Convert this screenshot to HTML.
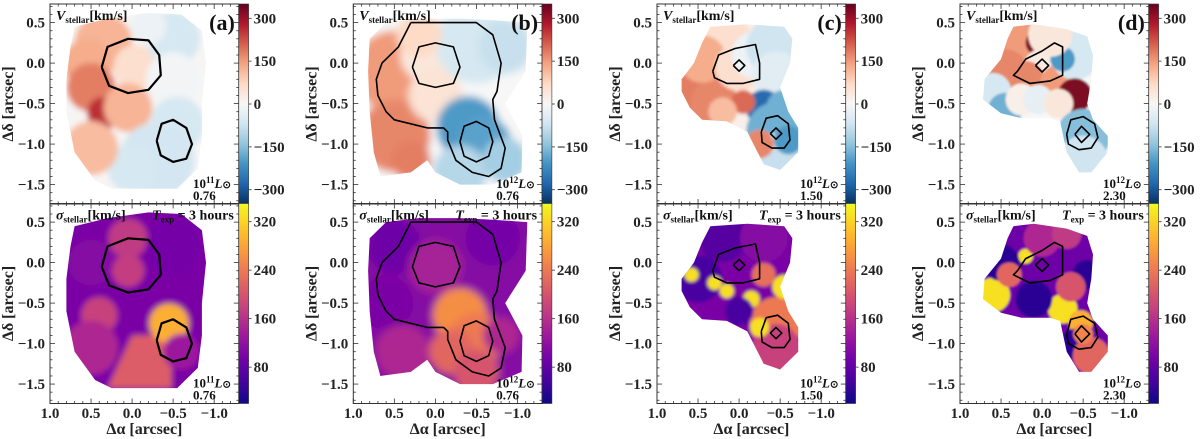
<!DOCTYPE html>
<html><head><meta charset="utf-8"><style>
html,body{margin:0;padding:0;background:#fff;}
svg{display:block;font-family:"Liberation Serif",serif;}
</style></head><body>
<svg id="fig" width="1200" height="439" viewBox="0 0 1200 439" xmlns="http://www.w3.org/2000/svg"></svg>
<script>
// ---------- data (arcsec coordinates, km/s values) ----------
const panelTags = ["(a)","(b)","(c)","(d)"];
const lumExp = ["11","12","12","12"];
const zLabels = ["0.76","0.76","1.50","2.30"];
const velTicks = [300,150,0,-150,-300];
const sigTicks = [320,240,160,80];
const xTicks = [1.0,0.5,0.0,-0.5,-1.0];
const yTicks = [0.5,0.0,-0.5,-1.0,-1.5];

const footprintA = [[0.7,0.45],[0.3,0.55],[-0.2,0.62],[-0.6,0.6],[-0.85,0.4],[-0.9,0.0],[-0.85,-0.5],[-0.85,-0.9],[-0.8,-1.3],[-0.55,-1.55],[0.25,-1.55],[0.45,-1.45],[0.7,-1.1],[0.8,-0.6],[0.8,-0.2],[0.75,0.2]];
const footprintB = [[0.8,0.3],[0.6,0.5],[0.2,0.55],[-0.3,0.55],[-0.7,0.53],[-1.12,0.5],[-1.1,-0.1],[-0.85,-0.5],[-1.06,-0.9],[-1.05,-1.35],[-0.7,-1.5],[-0.3,-1.5],[0.0,-1.35],[0.1,-1.2],[0.3,-1.35],[0.67,-1.4],[0.75,-1.1],[0.8,-0.6],[0.82,-0.1]];
const footprintC = [[0.35,0.45],[-0.1,0.48],[-0.55,0.45],[-0.65,0.3],[-0.62,0.0],[-0.5,-0.3],[-0.6,-0.6],[-0.72,-0.8],[-0.72,-1.1],[-0.5,-1.32],[-0.3,-1.25],[-0.2,-1.05],[-0.1,-0.85],[0.15,-0.72],[0.45,-0.7],[0.6,-0.55],[0.7,-0.35],[0.7,-0.2],[0.55,0.0],[0.45,0.25]];
const footprintD = [[0.35,0.45],[0.1,0.48],[-0.3,0.42],[-0.55,0.33],[-0.62,0.1],[-0.6,-0.2],[-0.55,-0.5],[-0.62,-0.7],[-0.8,-0.9],[-0.8,-1.1],[-0.6,-1.35],[-0.45,-1.35],[-0.3,-1.1],[-0.22,-0.72],[-0.1,-0.68],[0.25,-0.68],[0.5,-0.62],[0.72,-0.45],[0.7,-0.2],[0.5,0.05],[0.42,0.3]];

const velBaseA = 5, velBaseB = 0, velBaseC = 20, velBaseD = 0;
const sigBaseA = 100, sigBaseB = 110, sigBaseC = 100, sigBaseD = 90;

// blobs: [x, y, radius, value]
const velBlobsA = [[0.35,0.25,0.32,120],[0.55,0.0,0.27,130],[-0.05,-0.05,0.25,60],[-0.5,0.3,0.3,-60],[-0.2,0.45,0.2,-20],[-0.5,-0.2,0.3,-10],[0.5,-0.3,0.27,180],[0.35,-0.62,0.18,260],[0.05,-0.55,0.27,120],[-0.55,-0.75,0.3,-60],[-0.3,-1.2,0.42,-65],[0.0,-1.3,0.27,-60],[0.5,-1.05,0.3,110]];
const sigBlobsA = [[0.05,0.3,0.22,170],[0.05,-0.1,0.18,175],[0.4,-0.65,0.2,180],[-0.45,-0.75,0.22,290],[-0.6,-1.1,0.2,130],[0.5,0.0,0.25,110],[-0.5,0.2,0.3,95],[0.5,-1.05,0.3,150]];
const sigPatchA = [[0.3,-1.55],[0.0,-0.9],[-0.48,-0.9],[-0.48,-1.55]];
const sigPatchValA = 210;

const velBlobsB = [[0.5,-0.1,0.45,150],[0.5,-0.9,0.4,170],[0.3,-1.2,0.22,180],[0.1,0.1,0.3,40],[0.0,-0.4,0.3,50],[-0.5,0.25,0.45,-60],[-0.85,0.2,0.3,-80],[-0.4,-0.8,0.35,-200],[-0.6,-1.0,0.3,-190],[-0.3,-1.35,0.3,-100],[-0.85,-1.2,0.25,-120],[0.2,0.35,0.25,70]];
const sigBlobsB = [[0.5,0.2,0.3,90],[-0.7,0.3,0.3,95],[0.6,-0.5,0.3,100],[0.0,-0.05,0.3,140],[-0.3,-0.65,0.3,260],[-0.5,-0.95,0.3,240],[-0.2,-1.1,0.25,220],[-0.8,-0.9,0.2,150],[0.4,-1.1,0.3,150],[-0.5,-1.35,0.25,200]];

const velBlobsC = [[0.5,-0.3,0.25,180],[0.3,-0.5,0.2,170],[0.2,0.25,0.25,60],[0.45,0.05,0.2,130],[0.0,-0.05,0.2,60],[-0.2,0.1,0.2,-20],[-0.45,0.2,0.25,-70],[-0.45,-0.15,0.2,-40],[-0.3,-0.55,0.15,-270],[-0.05,-0.48,0.1,200],[-0.55,-0.55,0.15,-170],[-0.45,-0.85,0.25,-170],[-0.5,-1.15,0.2,-80],[-0.25,-1.0,0.12,170],[0.2,-0.6,0.12,110],[-0.6,-0.95,0.12,-200]];
const sigBlobsC = [[0.5,-0.2,0.2,60],[0.2,0.3,0.2,70],[-0.3,0.3,0.2,110],[-0.45,-0.75,0.22,240],[-0.45,-1.05,0.2,180],[-0.55,-0.3,0.1,330],[0.58,-0.15,0.06,330],[0.3,-0.25,0.06,330],[0.15,-0.35,0.06,330],[-0.15,-0.45,0.07,330],[-0.25,-0.8,0.08,330],[-0.3,-0.15,0.1,230],[0.0,-0.6,0.12,60]];

const velBlobsD = [[0.25,0.3,0.18,150],[0.05,0.25,0.1,330],[0.0,-0.05,0.15,30],[0.45,-0.1,0.18,170],[0.2,-0.2,0.15,170],[-0.2,-0.25,0.15,150],[-0.4,0.1,0.2,-60],[-0.25,0.05,0.1,-200],[-0.1,0.35,0.18,40],[-0.4,-0.4,0.14,330],[0.6,-0.35,0.15,-60],[0.45,-0.58,0.14,-170],[0.25,-0.45,0.13,20],[0.05,-0.45,0.12,-30],[-0.2,-0.5,0.12,40],[-0.5,-0.9,0.22,-150],[-0.5,-1.2,0.2,-70]];
const sigBlobsD = [[0.6,-0.4,0.14,330],[0.2,0.08,0.06,330],[-0.25,-0.57,0.12,330],[-0.47,-0.74,0.1,290],[0.5,0.0,0.15,40],[-0.55,-0.15,0.12,40],[0.1,-0.45,0.15,40],[-0.4,-1.0,0.12,40],[0.4,-0.15,0.1,220],[-0.35,-0.3,0.12,200],[-0.6,-1.15,0.15,220],[0.0,0.3,0.15,150],[-0.3,0.35,0.12,170],[-0.5,-0.88,0.08,250]];

const contoursA = [[[0.37,-0.05],[0.3,0.2],[0.05,0.3],[-0.2,0.28],[-0.33,0.1],[-0.35,-0.15],[-0.2,-0.33],[0.05,-0.37],[0.28,-0.28],[0.37,-0.05]],[[-0.3,-0.96],[-0.36,-0.75],[-0.5,-0.7],[-0.66,-0.8],[-0.73,-1.0],[-0.66,-1.18],[-0.5,-1.22],[-0.35,-1.14],[-0.3,-0.96]]];
const contoursB = [[[0.3,0.5],[-0.5,0.5],[-0.7,0.35],[-0.8,0.0],[-0.75,-0.35],[-0.7,-0.45],[-0.72,-0.7],[-0.85,-1.05],[-0.8,-1.3],[-0.65,-1.4],[-0.45,-1.35],[-0.25,-1.2],[-0.15,-0.95],[-0.15,-0.85],[-0.1,-0.8],[0.1,-0.8],[0.3,-0.75],[0.5,-0.7],[0.6,-0.6],[0.7,-0.4],[0.72,-0.2],[0.65,0.0],[0.45,0.2],[0.35,0.4],[0.3,0.5]],[[0.28,-0.05],[0.2,0.2],[0.0,0.25],[-0.22,0.2],[-0.3,-0.05],[-0.22,-0.25],[0.0,-0.3],[0.2,-0.25],[0.28,-0.05]],[[-0.3,-0.97],[-0.35,-0.78],[-0.5,-0.72],[-0.65,-0.8],[-0.7,-0.97],[-0.65,-1.15],[-0.5,-1.22],[-0.35,-1.15],[-0.3,-0.97]]];
const contoursC = [[[0.32,-0.1],[0.25,0.1],[0.05,0.18],[-0.2,0.23],[-0.25,0.0],[-0.25,-0.2],[-0.05,-0.25],[0.15,-0.25],[0.3,-0.18],[0.32,-0.1]],[[0.07,-0.03],[0.0,0.04],[-0.07,-0.03],[0.0,-0.1],[0.07,-0.03]],[[-0.27,-0.85],[-0.33,-0.68],[-0.47,-0.65],[-0.6,-0.75],[-0.62,-0.95],[-0.55,-1.05],[-0.4,-1.05],[-0.28,-0.98],[-0.27,-0.85]],[[-0.38,-0.87],[-0.45,-0.8],[-0.52,-0.87],[-0.45,-0.94],[-0.38,-0.87]]];
const contoursD = [[[0.3,-0.1],[0.2,0.05],[0.0,0.15],[-0.15,0.25],[-0.25,0.2],[-0.25,-0.15],[-0.1,-0.22],[0.15,-0.25],[0.35,-0.15],[0.3,-0.1]],[[0.08,-0.03],[0.0,0.05],[-0.08,-0.03],[0.0,-0.11],[0.08,-0.03]],[[-0.3,-0.88],[-0.35,-0.7],[-0.5,-0.66],[-0.64,-0.75],[-0.68,-0.92],[-0.6,-1.05],[-0.45,-1.07],[-0.32,-1.0],[-0.3,-0.88]],[[-0.4,-0.88],[-0.48,-0.78],[-0.58,-0.88],[-0.48,-0.98],[-0.4,-0.88]]];

const columns = [
 {fp:footprintA, vb:velBaseA, sb:sigBaseA, vel:velBlobsA, sig:sigBlobsA, con:contoursA, blur:3, rs:1.1},
 {fp:footprintB, vb:velBaseB, sb:sigBaseB, vel:velBlobsB, sig:sigBlobsB, con:contoursB, blur:4, rs:1.1},
 {fp:footprintC, vb:velBaseC, sb:sigBaseC, vel:velBlobsC, sig:sigBlobsC, con:contoursC, blur:1.5, rs:1.45},
 {fp:footprintD, vb:velBaseD, sb:sigBaseD, vel:velBlobsD, sig:sigBlobsD, con:contoursD, blur:1, rs:1.5}
];

// ---------- layout / scales ----------
const colLefts=[50,353.3,657,960], W=188.8, rowTops=[4,203.5], H=200, CBW=9.8;
const XMIN=1.0, XMAX=-1.3, YMIN=-1.74, YMAX=0.73;
const VMIN=-350, VMAX=350, SMIN=20, SMAX=350;
function sx(c,v){return colLefts[c]+(XMIN-v)/(XMIN-XMAX)*W;}
function sy(r,v){return rowTops[r]+(YMAX-v)/(YMAX-YMIN)*H;}
function sl(v){return v/(XMIN-XMAX)*W;}

const rdbu=["#053061","#2166ac","#4393c3","#92c5de","#d1e5f0","#f7f7f7","#fddbc7","#f4a582","#d6604d","#b2182b","#67001f"];
const plasma=["#0d0887","#46039f","#7201a8","#9c179e","#bd3786","#d8576b","#ed7953","#fb9f3a","#fdca26","#f0f921"];
function hex(h){return [1,3,5].map(i=>parseInt(h.substr(i,2),16));}
function cmap(stops,t){t=Math.max(0,Math.min(1,t));const n=stops.length-1;const i=Math.min(n-1,Math.floor(t*n));const f=t*n-i;const a=hex(stops[i]),b=hex(stops[i+1]);return "rgb("+a.map((v,k)=>Math.round(v+(b[k]-v)*f)).join(",")+")";}
function vcol(v){return cmap(rdbu,(v-VMIN)/(VMAX-VMIN));}
function scol(v){return cmap(plasma,(v-SMIN)/(SMAX-SMIN));}

const NS="http://www.w3.org/2000/svg";
const svg=document.getElementById("fig");
function mk(tag,attrs,parent){const e=document.createElementNS(NS,tag);for(const k in attrs)e.setAttribute(k,attrs[k]);(parent||svg).appendChild(e);return e;}
function txt(s,attrs,parent){const e=mk("text",attrs,parent);e.textContent=s;return e;}
const defs=mk("defs",{});

function polyPts(c,r,pts){return pts.map(p=>sx(c,p[0]).toFixed(1)+","+sy(r,p[1]).toFixed(1)).join(" ");}

for(let c=0;c<4;c++){
  const col=columns[c];
  const f=mk("filter",{id:"blur"+c,x:"-20%",y:"-20%",width:"140%",height:"140%"},defs);
  mk("feGaussianBlur",{stdDeviation:col.blur},f);
  for(let r=0;r<2;r++){
    const cp=mk("clipPath",{id:"clip"+c+r},defs);
    mk("polygon",{points:polyPts(c,r,col.fp)},cp);
    const panel=mk("g",{});
    
    
    const clipG=mk("g",{"clip-path":"url(#clip"+c+r+")"},panel);
    const blurG=mk("g",{filter:"url(#blur"+c+")"},clipG);
    const base=r===0?col.vb:col.sb, fn=r===0?vcol:scol;
    mk("rect",{x:colLefts[c]-20,y:rowTops[r]-20,width:W+40,height:H+40,fill:fn(base)},blurG);
    if(r===1&&c===0){
      const pp=mk("polygon",{points:polyPts(c,r,sigPatchA),fill:scol(sigPatchValA)},blurG);
      
      
    }
    const blobs=r===0?col.vel:col.sig;
    blobs.forEach(b=>{
      const e=mk("circle",{cx:sx(c,b[0]),cy:sy(r,b[1]),r:sl(b[2])*col.rs,fill:fn(b[3])},blurG);
      
      
    });
    col.con.forEach(line=>{
      const e=mk("polyline",{points:polyPts(c,r,line),fill:"none",stroke:"#000","stroke-width":c===0?2.2:1.6,"stroke-linejoin":"round"},panel);
      
      
    });
    const fr=mk("rect",{x:colLefts[c],y:rowTops[r],width:W,height:H,fill:"none",stroke:"#333","stroke-width":1},panel);
    
    
    const tg=mk("g",{stroke:"#333","stroke-width":0.8},panel);
    
    
    for(let k=-13;k<=10;k++){
      const v=k/10, X=sx(c,v), big=(k%5===0), L=big?5:2.5;
      mk("line",{x1:X,y1:rowTops[r],x2:X,y2:rowTops[r]+L},tg);
      mk("line",{x1:X,y1:rowTops[r]+H,x2:X,y2:rowTops[r]+H-L},tg);
    }
    for(let k=-17;k<=7;k++){
      const v=k/10, Y=sy(r,v), big=(k%5===0), L=big?5:2.5;
      mk("line",{x1:colLefts[c],y1:Y,x2:colLefts[c]+L,y2:Y},tg);
      mk("line",{x1:colLefts[c]+W,y1:Y,x2:colLefts[c]+W-L,y2:Y},tg);
    }
    yTicks.forEach(v=>{
      const t=txt(v.toFixed(1).replace("-","\u2212"),{x:colLefts[c]-5,y:sy(r,v)+5,"text-anchor":"end","font-size":15,"font-weight":"bold",fill:"#222"},panel);
      
      
    });
    const yl=txt("\u0394\u03b4 [arcsec]",{x:0,y:0,transform:"translate("+(colLefts[c]-37)+","+(rowTops[r]+H/2)+") rotate(-90)","text-anchor":"middle","font-size":16,"font-weight":"bold",fill:"#222"},panel);
    
    
    const L0=colLefts[c], T0=rowTops[r];
    if(r===0){
      const q=txt("",{x:L0+6,y:T0+16,"font-size":14,"font-weight":"bold",fill:"#111"},panel);
      q.innerHTML='<tspan font-style="italic">V</tspan><tspan font-size="9" dy="3">stellar</tspan><tspan dy="-3">[km/s]</tspan>';
      
      
      const p=txt(panelTags[c],{x:L0+W-4,y:T0+26,"text-anchor":"end","font-size":22,"font-weight":"bold",fill:"#111"},panel);
      
      
    } else {
      const q=txt("",{x:L0+6,y:T0+16,"font-size":14,"font-weight":"bold",fill:"#111"},panel);
      q.innerHTML='<tspan font-style="italic">\u03c3</tspan><tspan font-size="9" dy="3">stellar</tspan><tspan dy="-3">[km/s]</tspan>';
      
      
      const e=txt("",{x:L0+W-5,y:T0+16,"text-anchor":"end","font-size":14,"font-weight":"bold",fill:"#111"},panel);
      e.innerHTML='<tspan font-style="italic">T</tspan><tspan font-size="9" dy="3">exp</tspan><tspan dy="-3"> = 3 hours</tspan>';
      
      
    }
    const lum=txt("",{x:L0+143,y:T0+184,"font-size":13,"font-weight":"bold",fill:"#111"},panel);
    lum.innerHTML='10<tspan font-size="9" dy="-5">'+lumExp[c]+'</tspan><tspan dy="5" font-style="italic">L</tspan><tspan font-size="10">\u2299</tspan>';
    
    
    const z=txt(zLabels[c],{x:L0+143,y:T0+196,"font-size":13,"font-weight":"bold",fill:"#111"},panel);
    
    

    const gid="grad"+c+r;
    const lg=mk("linearGradient",{id:gid,x1:0,y1:1,x2:0,y2:0},defs);
    for(let k=0;k<=20;k++){const t=k/20;mk("stop",{offset:t,"stop-color":r===0?vcol(VMIN+t*(VMAX-VMIN)):scol(SMIN+t*(SMAX-SMIN))},lg);}
    const cbx=L0+W;
    const cb=mk("rect",{x:cbx,y:T0,width:CBW,height:H,fill:"url(#"+gid+")",stroke:"#333","stroke-width":0.6});
    
    
    const ticks=r===0?velTicks:sigTicks;
    ticks.forEach(v=>{
      const Y=r===0? T0+(VMAX-v)/(VMAX-VMIN)*H : T0+(SMAX-v)/(SMAX-SMIN)*H;
      mk("line",{x1:cbx+CBW,y1:Y,x2:cbx+CBW+3,y2:Y,stroke:"#333","stroke-width":0.8});
      const t=txt(String(v).replace("-","\u2212"),{x:cbx+CBW+5,y:Y+5,"font-size":15,"font-weight":"bold",fill:"#222"});
      
      
    });
  }
  xTicks.forEach(v=>{
    const t=txt(v.toFixed(1).replace("-","\u2212"),{x:sx(c,v),y:418,"text-anchor":"middle","font-size":15,"font-weight":"bold",fill:"#222"});
    
    
  });
  const xl=txt("\u0394\u03b1 [arcsec]",{x:colLefts[c]+W/2,y:434,"text-anchor":"middle","font-size":16,"font-weight":"bold",fill:"#222"});
  
  
}
</script>
</body></html>
